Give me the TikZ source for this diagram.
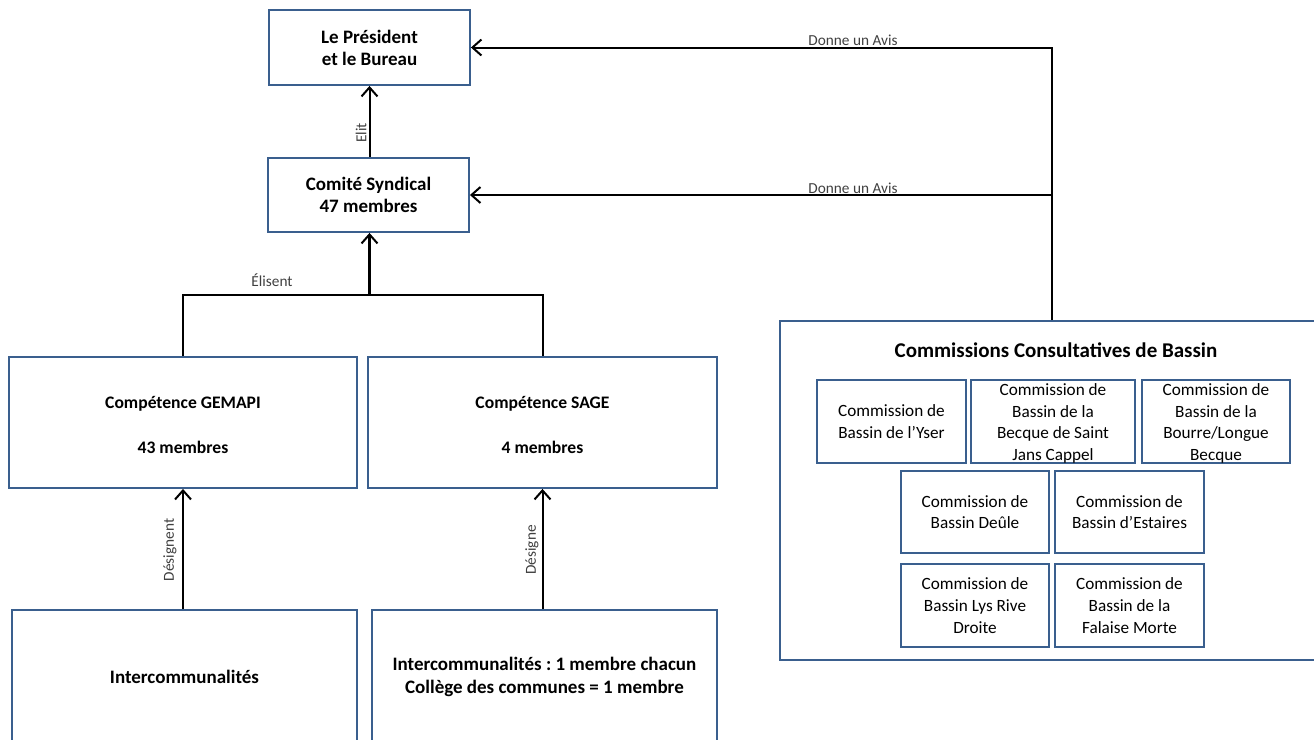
\documentclass[tikz,border=0pt]{standalone}
\usepackage{fontspec}
\setmainfont{Carlito}
\usetikzlibrary{arrows.meta}
\definecolor{boxblue}{HTML}{3A5F8E}
\definecolor{lblgray}{HTML}{404040}
\frenchspacing
\tikzset{
  mainbox/.style={draw=boxblue, line width=1.9pt, fill=white, inner sep=0pt, align=center,
    font=\fontsize{19}{22}\selectfont\bfseries},
  subbox/.style={draw=boxblue, line width=1.9pt, fill=white, inner sep=0pt, align=center,
    font=\fontsize{17.2}{21.6}\selectfont},
  lbl/.style={text=lblgray, font=\fontsize{15.3}{17}\selectfont, inner sep=0pt},
  conn/.style={draw=black, line width=2pt, -{Straight Barb[length=9pt,width=16pt,line width=2pt]}},
  line/.style={draw=black, line width=2pt},
}
\begin{document}
\begin{tikzpicture}[x=1pt,y=-1pt]
\useasboundingbox (0,0) rectangle (1314,739);
\clip (0,0) rectangle (1314,739);
\fill[white] (0,0) rectangle (1314,739);
% main boxes
\node[mainbox, minimum width=201pt, minimum height=75pt] (pres) at (369.5,47.5) {Le Président\\et le Bureau};
\node[mainbox, minimum width=201pt, minimum height=74pt] (com) at (368.5,195) {Comité Syndical\\47 membres};
\node[mainbox, minimum width=348pt, minimum height=131pt] (gem) at (183,422.5) {};
\node[font=\fontsize{17.6}{45}\selectfont\bfseries, inner sep=0pt, align=center] (gemt) at (183,425) {Compétence GEMAPI\\43 membres};
\node[mainbox, minimum width=349pt, minimum height=131pt] (sage) at (542.5,422.5) {};
\node[font=\fontsize{17.6}{45}\selectfont\bfseries, inner sep=0pt, align=center] (saget) at (542.5,425) {Compétence SAGE\\4 membres};
\node[mainbox, minimum width=345pt, minimum height=170pt] (int1) at (184.5,695) {};
\node[font=\fontsize{19}{22}\selectfont\bfseries, inner sep=0pt] (int1t) at (184.5,677) {Intercommunalités};
\node[mainbox, minimum width=345pt, minimum height=170pt] (int2) at (544.5,695) {};
\node[font=\fontsize{19}{23}\selectfont\bfseries, inner sep=0pt, align=center] (int2t) at (544.5,677) {Intercommunalités : 1 membre chacun\\Collège des communes = 1 membre};
% big commission box
\node[draw=boxblue, line width=1.9pt, fill=white, minimum width=560pt, minimum height=339pt, inner sep=0pt] (big) at (1060,490.5) {};
\node[font=\fontsize{21}{24}\selectfont\bfseries, inner sep=0pt] (bigt) at (1056,350) {Commissions Consultatives de Bassin};
\node[subbox, minimum width=149pt, minimum height=83pt] (c1) at (891.5,421.5) {Commission de\\Bassin de l’Yser};
\node[subbox, minimum width=164pt, minimum height=83pt] (c2) at (1053,421.5) {};
\node[font=\fontsize{17.2}{21.6}\selectfont, inner sep=0pt, align=center] (c2t) at (1053,423.5) {Commission de\\Bassin de la\\Becque de Saint\\Jans Cappel};
\node[subbox, minimum width=148pt, minimum height=83pt] (c3) at (1216,421.5) {};
\node[font=\fontsize{17.2}{21.6}\selectfont, inner sep=0pt, align=center] (c3t) at (1216,423.5) {Commission de\\Bassin de la\\Bourre/Longue\\Becque};
\node[subbox, minimum width=148pt, minimum height=82pt] (c4) at (975,512) {Commission de\\Bassin Deûle};
\node[subbox, minimum width=149pt, minimum height=82pt] (c5) at (1129.5,512) {Commission de\\Bassin d’Estaires};
\node[subbox, minimum width=148pt, minimum height=83pt] (c6) at (975,605.5) {Commission de\\Bassin Lys Rive\\Droite};
\node[subbox, minimum width=149pt, minimum height=83pt] (c7) at (1129.5,605.5) {Commission de\\Bassin de la\\Falaise Morte};
% connectors
\draw[conn] (com.north -| pres.south) -- (pres.south);
\node[lbl, rotate=90] (elit) at (361,133) {Elit};
\coordinate (jn) at (369.5,295);
\draw[line] (gem.north) |- (jn) -| (sage.north);
\draw[conn, line width=2.9pt] (jn) -- (jn |- com.south);
\node[lbl] (elisent) at (272,280) {Élisent};
\draw[conn] (gem.south |- int1.north) -- (gem.south);
\node[lbl, rotate=90] (designent) at (170,550) {Désignent};
\draw[conn] (sage.south |- int2.north) -- (sage.south);
\node[lbl, rotate=90] (designe) at (532,550) {Désigne};
\coordinate (tp) at (1052,47.5);
\draw[conn] (big.north -| tp) -- (tp) -- (pres.east);
\draw[conn] (tp |- com.east) -- (com.east);
\node[lbl] (avis1) at (853,40) {Donne un Avis};
\node[lbl] (avis2) at (853,188) {Donne un Avis};
\end{tikzpicture}
\end{document}
